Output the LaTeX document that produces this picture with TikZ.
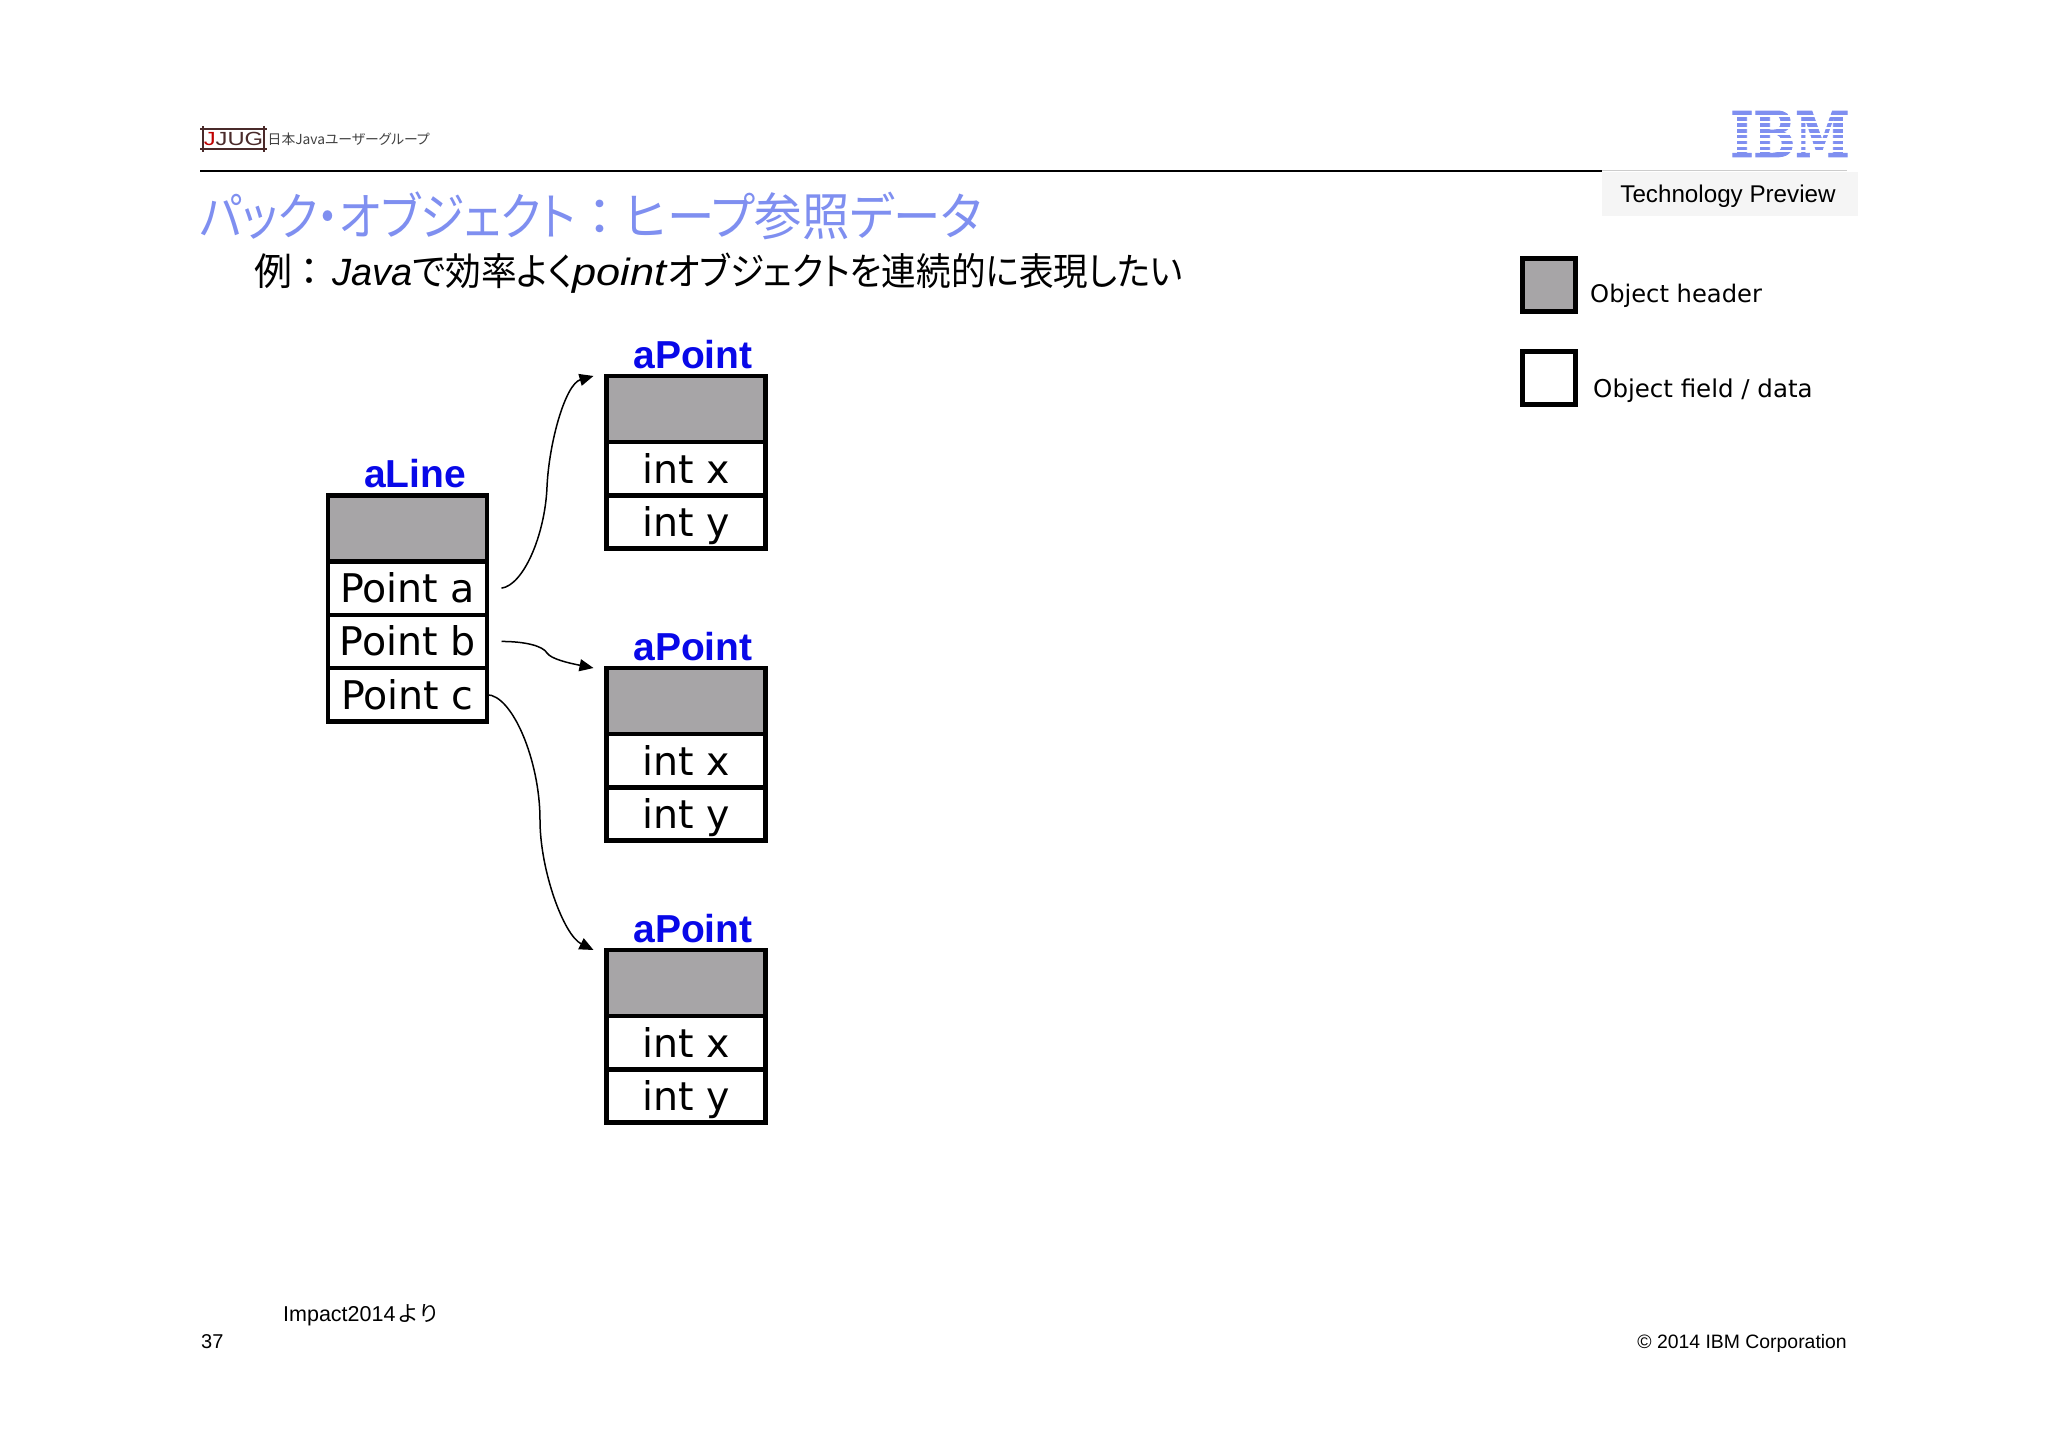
\documentclass[tikz,border=0pt]{standalone}
\usepackage{fontspec}
\usepackage{xcolor}
\setmainfont{Liberation Sans}
\newfontfamily\verd{DejaVu Sans}
\newfontfamily\cjk[RawFeature=+palt]{Noto Sans CJK JP}
\newfontfamily\cjkfull{Noto Sans CJK JP}
\newfontfamily\ibmfont[BoldFeatures={FakeBold=1.5}]{DejaVu Serif}
\usetikzlibrary{arrows.meta, positioning}

\definecolor{hdrgray}{HTML}{A7A5A7}
\definecolor{ibmblue}{HTML}{7F8FF0}
\definecolor{nameblue}{HTML}{0808E8}
\definecolor{jjugbrown}{HTML}{4A2A2A}

\newcommand{\sz}[1]{\fontsize{#1}{#1}\selectfont}
\newcommand{\narrow}[2]{\scalebox{#1}[1]{#2}}

\tikzset{
	hdrbox/.style = {draw, line width=4.5pt, fill=hdrgray, outer sep=0pt, inner sep=0pt, minimum width=159pt, minimum height=66pt},
	cellbox/.style = {draw, line width=4.5pt, fill=white, outer sep=0pt, inner sep=0pt, minimum width=159pt, minimum height=53.3pt, text height=29pt, text depth=0pt, font=\verd\sz{39.5}},
	objname/.style = {anchor=base, inner sep=0pt, text=nameblue, font=\bfseries\sz{39}},
	ptr/.style = {line width=1.5pt, -{Triangle[length=14pt,width=12pt]}},
	legendbox/.style = {draw, line width=5pt, minimum size=53pt, inner sep=0pt, outer sep=0pt},
	legendtxt/.style = {anchor=base west, inner sep=0pt, font=\verd\sz{24.5}},
	plain/.style = {anchor=base west, inner sep=0pt}
}

\begin{document}
\begin{tikzpicture}[x=1pt, y=-1pt]
	\useasboundingbox (0,0) rectangle (2048,1447);

	% header
	\draw[line width=2pt] (200,171.5) -- (1602,171.5);
	\draw[line width=1pt, black!20] (1602,171) -- (1847,171);
	\node[fill=black!4, minimum width=256pt, minimum height=44pt, inner sep=0pt, text height=18pt, text depth=0pt, font=\sz{24.2}] (preview) at (1730,194) {\hspace*{-4pt}Technology Preview};

	\node[inner sep=0pt, text=ibmblue, xscale=.78, font=\ibmfont\bfseries\sz{63}] (ibm) at (1790,134) {IBM};
	\foreach \y in {116,122,128,134,139.5,145.5,151} {
		\fill[white] (1725,\y-1.2) rectangle (1855,\y+1.2);
	}

	\node[inner sep=0pt, xscale=1.25, text=jjugbrown, font=\sz{19}] (jjug) at (233.5,139) {\textcolor{red!75!black}{J}JUG};
	\draw[jjugbrown, line width=1.5pt] (200,129) -- (267,129) (200,149) -- (267,149) (203,126) -- (203,152) (264,126) -- (264,152);
	\node[anchor=west, inner sep=0pt, text=black!75, font=\cjk\sz{13.8}] (jug) at (267.5,139) {日本Javaユーザーグループ};

	\node[plain, text=ibmblue, font=\cjk\sz{51}] (title) at (200,236) {\narrow{.88}{パック・オブジェクト}\makebox[49pt]{：}\narrow{.93}{ヒープ参照データ}};
	\node[plain, font=\sz{38}] (subtitle) at (254,286) {{\cjk 例\makebox[40pt][l]{\hspace{8pt}：}}\textit{Java}{\cjk\narrow{.94}{で効率よく}}\narrow{1.14}{\textit{point}}{\cjk\narrow{.91}{オブジェクトを連続的に表現したい}}};

	% legend
	\node[legendbox, fill=hdrgray] (lghdr) at (1549,285.5) {};
	\node[legendbox, fill=white] (lgfld) at (1549,378) {};
	\node[legendtxt, font=\verd\sz{24.2}] (lghdrtxt) at (1590,302) {Object header};
	\node[legendtxt] (lgfldtxt) at (1593,397) {Object field / data};

	% aLine
	\node[hdrbox] (hd) at (407.5,528.5) {};
	\node[cellbox, below=0pt of hd] (pa) {Point a};
	\node[cellbox, below=0pt of pa] (pb) {Point b};
	\node[cellbox, below=0pt of pb] (pc) {Point c};
	\node[objname] (lineName) at ([xshift=7.5pt,yshift=8pt]hd.north) {aLine};

	% aPoint
	\foreach \n/\ytop in {1/409,2/701,3/983} {
		\node[hdrbox] (hd\n) at (686,\ytop) {};
		\node[cellbox, below=0pt of hd\n] (x\n) {int x};
		\node[cellbox, below=0pt of x\n] (y\n) {int y};
		\node[objname] (name\n) at ([xshift=7pt,yshift=8pt]hd\n.north) {aPoint};
		\coordinate (tip\n) at ([xshift=-13pt]hd\n.north west);
	}

	\coordinate (bendA) at (547,487);
	\coordinate (bendB) at (547,653);
	\coordinate (bendC) at (540,820);

	\draw[ptr] ([xshift=14.5pt]pa.east) .. controls +(22,-3) and +(-2,48) .. (bendA) .. controls +(2,-45) and +(-28,8) .. (tip1);
	\draw[ptr] ([xshift=14.5pt]pb.east) .. controls +(24,0) and +(-4,-7) .. (bendB) .. controls +(4,6) and +(-25,-5) .. (tip2);
	\draw[ptr] (pc.east) .. controls +(25,0) and +(0,-60) .. (bendC) .. controls +(0,50) and +(-30,-15) .. (tip3);

	% footer
	\node[plain, font=\sz{21.5}] (impact) at (283,1321) {Impact2014{\cjkfull\hspace{2pt}より}};
	\node[plain, font=\sz{20}] (page) at (201,1348) {37};
	\node[anchor=base east, inner sep=0pt, font=\sz{19.4}] (copy) at (1847,1348) {© 2014 IBM Corporation};
\end{tikzpicture}
\end{document}
